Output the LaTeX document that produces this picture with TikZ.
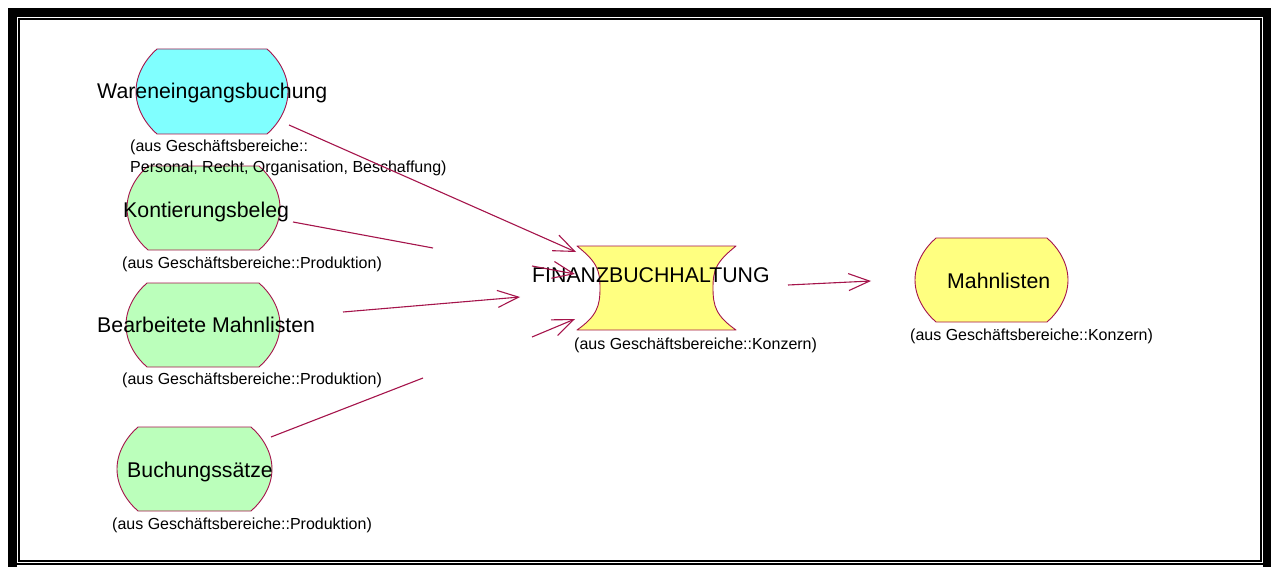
\documentclass[tikz,border=0pt]{standalone}
\usepackage{fontspec}
\setmainfont{Liberation Sans}
\usetikzlibrary{arrows.meta}
\definecolor{lineC}{RGB}{165,20,75}
\definecolor{cyanF}{RGB}{128,255,255}
\definecolor{greenF}{RGB}{187,255,187}
\definecolor{yellowF}{RGB}{255,255,128}
\tikzset{
  shapeline/.style={draw=lineC, line width=0.9pt, line join=round},
  bigtxt/.style={inner sep=0pt, anchor=base west, font=\fontsize{21.3}{25}\selectfont},
  smalltxt/.style={inner sep=0pt, anchor=base west, font=\fontsize{16}{20}\selectfont},
  conn/.style={draw=lineC, line width=1.1pt},
  arr/.style={conn, -{Straight Barb[length=21pt,width=17pt,line width=1.1pt]}}
}
% #1 L, #2 T, #3 R, #4 B, #5 c, #6 fill
\newcommand\ostate[6]{%
 \filldraw[shapeline, fill=#6] ({#1+#5},#2) -- ({#3-#5},#2)
  .. controls ({#3-0.45*#5},{#2+0.12*(#4-#2)}) and (#3,{#2+0.3*(#4-#2)}) .. (#3,{0.5*(#2+#4)})
  .. controls (#3,{#2+0.7*(#4-#2)}) and ({#3-0.45*#5},{#2+0.88*(#4-#2)}) .. ({#3-#5},#4)
  -- ({#1+#5},#4)
  .. controls ({#1+0.45*#5},{#2+0.88*(#4-#2)}) and (#1,{#2+0.7*(#4-#2)}) .. (#1,{0.5*(#2+#4)})
  .. controls (#1,{#2+0.3*(#4-#2)}) and ({#1+0.45*#5},{#2+0.12*(#4-#2)}) .. ({#1+#5},#2)
  -- cycle;}
\begin{document}
\begin{tikzpicture}[x=1pt,y=-1pt]
\useasboundingbox (0,0) rectangle (1271,567);
% frame
\fill[white] (0,0) rectangle (1271,567);
\fill[black] (8,8) rectangle (17,567);
\fill[black] (8,8) rectangle (1271,17);
\fill[black] (1263,8) rectangle (1271,567);
\fill[black] (17,563) rectangle (1263,565.3);
\draw[black, line width=1.5pt] (18.8,19.2) rectangle (1260.8,561);
% shapes
\ostate{136}{49}{288}{134}{21}{cyanF}
\ostate{127}{166}{280}{250}{21}{greenF}
\ostate{126}{283}{280}{367}{21}{greenF}
\ostate{117}{427}{272}{511}{21}{greenF}
\ostate{915}{238}{1068}{322}{21}{yellowF}
\filldraw[shapeline, fill=yellowF] (577,246) -- (736,246)
  .. controls (716,262) and (713,270) .. (713,288)
  .. controls (713,306) and (716,316) .. (736,330)
  -- (577,330)
  .. controls (597,316) and (600,306) .. (600,288)
  .. controls (600,270) and (597,262) .. (577,246) -- cycle;
% texts
\node[bigtxt] (wt) at (97,99) {Wareneingangsbuchung};
\node[smalltxt] (ws1) at (130,151) {(aus Geschäftsbereiche::};
\node[smalltxt] (ws2) at (130,172.5) {Personal, Recht, Organisation, Beschaffung)};
\node[bigtxt] (kt) at (123,217) {Kontierungsbeleg};
\node[smalltxt] (ks) at (122,268) {(aus Geschäftsbereiche::Produktion)};
\node[bigtxt] (bmt) at (97,332) {Bearbeitete Mahnlisten};
\node[smalltxt] (bms) at (122,384) {(aus Geschäftsbereiche::Produktion)};
\node[bigtxt] (bst) at (127,477) {Buchungssätze};
\node[smalltxt] (bss) at (112,529) {(aus Geschäftsbereiche::Produktion)};
\node[bigtxt] (ft) at (532,282) {FINANZBUCHHALTUNG};
\node[smalltxt] (fs) at (574,349) {(aus Geschäftsbereiche::Konzern)};
\node[bigtxt] (mt) at (947,288) {Mahnlisten};
\node[smalltxt] (ms) at (910,340) {(aus Geschäftsbereiche::Konzern)};
% connector coordinates
\coordinate (wA) at (289,125);
\coordinate (wB) at (576,252);
\coordinate (kA) at (293,222);
\coordinate (kB) at (433,248);
\coordinate (kC) at (532,266);
\coordinate (kD) at (575,274);
\coordinate (bmA) at (343,312);
\coordinate (bmB) at (520,297);
\coordinate (bsA) at (271,437);
\coordinate (bsB) at (423,378);
\coordinate (bsC) at (532,337);
\coordinate (bsD) at (575,319);
\coordinate (fA) at (788,285);
\coordinate (fB) at (871,281);
% connectors
\draw[arr] (wA) -- (wB);
\draw[conn] (kA) -- (kB);
\draw[arr] (kC) -- (kD);
\draw[arr] (bmA) -- (bmB);
\draw[conn] (bsA) -- (bsB);
\draw[arr] (bsC) -- (bsD);
\draw[arr] (fA) -- (fB);
\end{tikzpicture}
\end{document}
